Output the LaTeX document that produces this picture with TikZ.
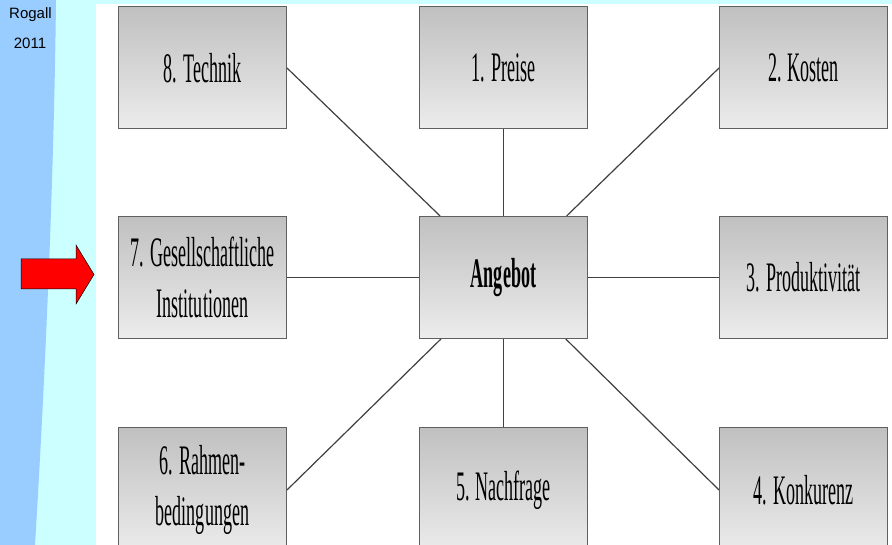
\documentclass[tikz,border=0pt]{standalone}
\usepackage{fontspec}
\setmainfont{Liberation Serif}
\newfontfamily\boxfont[FakeStretch=0.43]{Liberation Serif}
\newfontfamily\labelfont{Liberation Sans}
\definecolor{bandblue}{HTML}{99CCFF}
\definecolor{bgcyan}{HTML}{CCFFFF}
\definecolor{boxtop}{RGB}{192,192,192}
\definecolor{boxbot}{RGB}{236,236,236}
\definecolor{boxline}{RGB}{96,96,96}
\definecolor{conn}{RGB}{64,64,64}
\tikzset{
  factor/.style={rectangle, draw=boxline, line width=1pt, top color=boxtop, bottom color=boxbot,
    minimum width=168pt, minimum height=122pt, inner sep=0pt, align=center,
    font=\boxfont\fontsize{42}{51}\selectfont},
  lowfactor/.style={factor, minimum height=126pt},
  connector/.style={draw=conn, line width=1.2pt},
  sidelabel/.style={font=\labelfont\fontsize{15}{17}\selectfont, inner sep=0pt}
}
\begin{document}
\begin{tikzpicture}[x=1pt,y=-1pt]
\useasboundingbox (0,0) rectangle (892,545);
\clip (0,0) rectangle (892,545);
% backgrounds
\fill[bgcyan] (0,0) rectangle (892,545);
\fill[bandblue] (0,0) -- (56,0) .. controls (54,180) and (45,380) .. (35,545) -- (0,545) -- cycle;
\fill[white] (96,4) rectangle (892,545);
% side labels
\node[sidelabel] (rogall) at (30.5,15) {Rogall};
\node[sidelabel] (year) at (30,43) {2011};
% red arrow
\filldraw[fill=red, draw=black, line width=0.5pt]
  (21,259) -- (76,259) -- (76,245) -- (94,274.5) -- (76,304) -- (76,289) -- (21,289) -- cycle;
% boxes
\node[factor] (ang) at (503.5,277.5) {\bfseries Angebot};
\node[factor] (t1) at (503.5,68) {1. Preise};
\node[factor] (t2) at (803.5,68) {2. Kosten};
\node[factor] (t3) at (803.5,277.5) {3. Produktivität};
\node[lowfactor] (t4) at (803.5,490) {4. Konkurenz};
\node[lowfactor] (t5) at (503.5,490) {5. Nachfrage};
\node[lowfactor] (t6) at (202.5,490) {6. Rahmen-\\bedingungen};
\node[factor] (t7) at (202.5,277.5) {7. Gesellschaftliche\\Institutionen};
\node[factor] (t8) at (202.5,68) {8. Technik};
% connectors
\draw[connector] (t1) -- (ang);
\draw[connector] (t2.west) -- (ang);
\draw[connector] (t3) -- (ang);
\draw[connector] (t4.west) -- (ang);
\draw[connector] (t5) -- (ang);
\draw[connector] (t6.east) -- (ang);
\draw[connector] (t7) -- (ang);
\draw[connector] (t8.east) -- (ang);
\end{tikzpicture}
\end{document}
